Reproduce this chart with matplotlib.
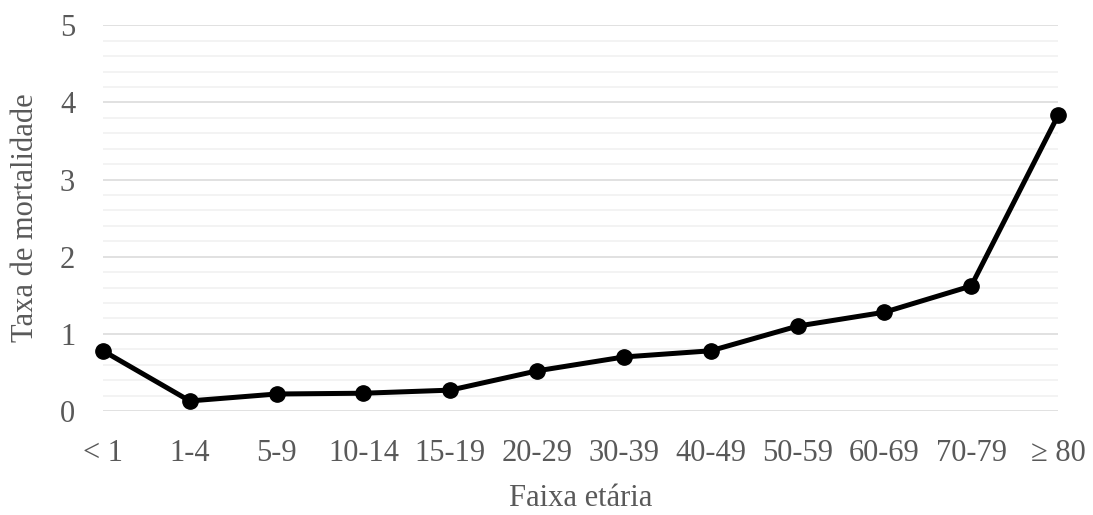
import numpy as np
import matplotlib.pyplot as plt
from matplotlib.ticker import MultipleLocator

### DATA ###
faixas = ['< 1', '1-4', '5-9', '10-14', '15-19', '20-29', '30-39',
          '40-49', '50-59', '60-69', '70-79', '\u2265 80']
taxa = [0.78, 0.13, 0.22, 0.23, 0.27, 0.52, 0.70, 0.78, 1.10, 1.28, 1.62, 3.83]

### STYLE ###
plt.rcParams['font.family'] = ['Liberation Serif', 'DejaVu Serif']
cinza = '#595959'

fig = plt.figure(figsize=(10.93, 5.15), dpi=100)
ax = fig.add_axes([0.0942, 0.202, 0.8738, 0.749])

x = np.arange(len(faixas))
ax.plot(x, taxa, color='black', lw=3.6, marker='o', ms=11,
        solid_joinstyle='round', zorder=3, clip_on=False)

ax.set_xlim(0, len(faixas) - 1)
ax.set_ylim(0, 5)
ax.yaxis.set_major_locator(MultipleLocator(1))
ax.yaxis.set_minor_locator(MultipleLocator(0.2))
ax.grid(which='major', axis='y', color='#d9d9d9', lw=1.1)
ax.grid(which='minor', axis='y', color='#f0f0f0', lw=1.1)
ax.set_axisbelow(True)

ax.set_xticks(x)
ax.set_xticklabels(faixas)
for s in ax.spines.values():
    s.set_visible(False)
ax.tick_params(axis='both', which='both', length=0, labelsize=22, labelcolor=cinza)
ax.tick_params(axis='x', pad=20)
ax.tick_params(axis='y', pad=20)

ax.set_xlabel('Faixa et\u00e1ria', fontsize=22, color=cinza, labelpad=12)
ax.set_ylabel('Taxa de mortalidade', fontsize=22, color=cinza, labelpad=14)

fig.savefig('out.png', dpi=100)
